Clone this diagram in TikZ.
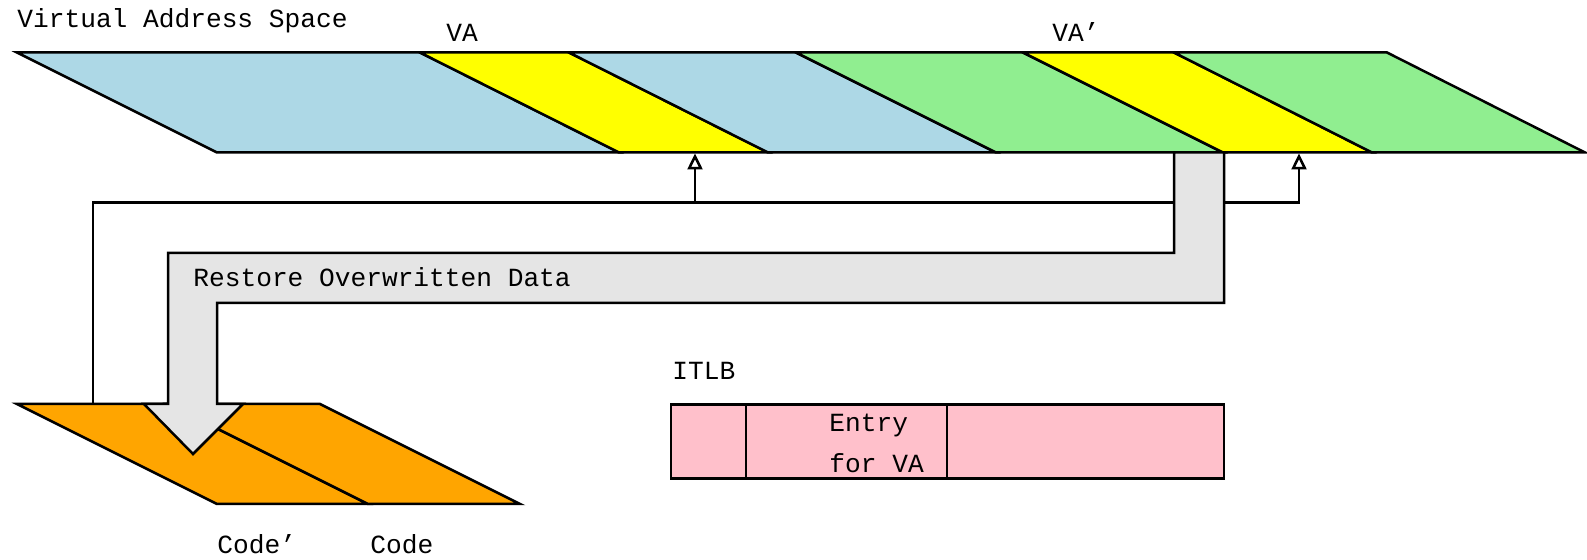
\documentclass[tikz,border=0pt]{standalone}
\usepackage{fontspec}
\setmainfont{Liberation Mono}
\usetikzlibrary{arrows.meta}
\definecolor{spaceblue}{HTML}{ADD8E6}
\definecolor{pageyellow}{HTML}{FFFF00}
\definecolor{spacegreen}{HTML}{90EE90}
\definecolor{codeorange}{HTML}{FFA500}
\definecolor{tlbpink}{HTML}{FFC0CB}
\definecolor{flowgray}{HTML}{E5E5E5}
\begin{document}
\begin{tikzpicture}[x=0.5pt,y=-0.5pt,
  outline/.style={draw=black,line width=1.25pt,line join=miter},
  lbl/.style={inner sep=0pt,anchor=base west,font=\fontsize{13.1}{15}\selectfont},
  link/.style={draw=black,line width=1.25pt,
    -{Triangle[width=7.5pt,length=8pt,fill=white]}},
]
\useasboundingbox (0,0) rectangle (1587,560);

% virtual address space band, cut into slanted regions
\path[outline,fill=spaceblue]  (17,52.5)   -- (420,52.5)  -- (619,152.5)  -- (217,152.5)  -- cycle;
\path[outline,fill=pageyellow] (420,52.5)  -- (569,52.5)  -- (768,152.5)  -- (619,152.5)  -- cycle;
\path[outline,fill=spaceblue]  (569,52.5)  -- (796,52.5)  -- (996,152.5)  -- (768,152.5)  -- cycle;
\path[outline,fill=spacegreen] (796,52.5)  -- (1023,52.5) -- (1223,152.5) -- (996,152.5)  -- cycle;
\path[outline,fill=pageyellow] (1023,52.5) -- (1174,52.5) -- (1372,152.5) -- (1223,152.5) -- cycle;
\path[outline,fill=spacegreen] (1174,52.5) -- (1387,52.5) -- (1585,152.5) -- (1372,152.5) -- cycle;

\node[lbl] (vas) at (17,27.5) {Virtual Address Space};
\node[lbl] (va)  at (446,41.7) {VA};
\node[lbl] (vap) at (1052,41.7) {VA’};

% code pages
\path[outline,fill=codeorange] (17,404)  -- (168,404) -- (368,504) -- (217,504) -- cycle;
\path[outline,fill=codeorange] (168,404) -- (320,404) -- (520,504) -- (368,504) -- cycle;
\node[lbl] (codep) at (217,553.3) {Code’};
\node[lbl] (code)  at (370,553.3) {Code};

% connectors from the code page up to VA and VA'
\coordinate (codeTop) at (93,404);
\coordinate (fork)    at (695,202.5);
\coordinate (vaFoot)  at (695,153.5);
\coordinate (vapFoot) at (1299,153.5);
\draw[link] (codeTop) |- (fork) -| (vapFoot);
\draw[link] (fork) -- (vaFoot);

% block arrow: restore overwritten data
\path[outline,fill=flowgray]
  (1174,152.5) -- (1224,152.5) -- (1224,303) -- (217,303) -- (217,404)
  -- (243,404) -- (193,454) -- (144,404) -- (168,404) -- (168,253)
  -- (1174,253) -- cycle;
\node[lbl] (restore) at (193,286.7) {Restore Overwritten Data};

% ITLB
\node[lbl] (itlb) at (672,380) {ITLB};
\path[outline,fill=tlbpink] (671,404.5) rectangle (1224,478.5);
\draw[outline] (746,404.5) -- (746,478.5);
\draw[outline] (947,404.5) -- (947,478.5);
\node[lbl] (entry) at (829,431.7) {Entry};
\node[lbl] (forva) at (829,472.5) {for VA};
\end{tikzpicture}
\end{document}
